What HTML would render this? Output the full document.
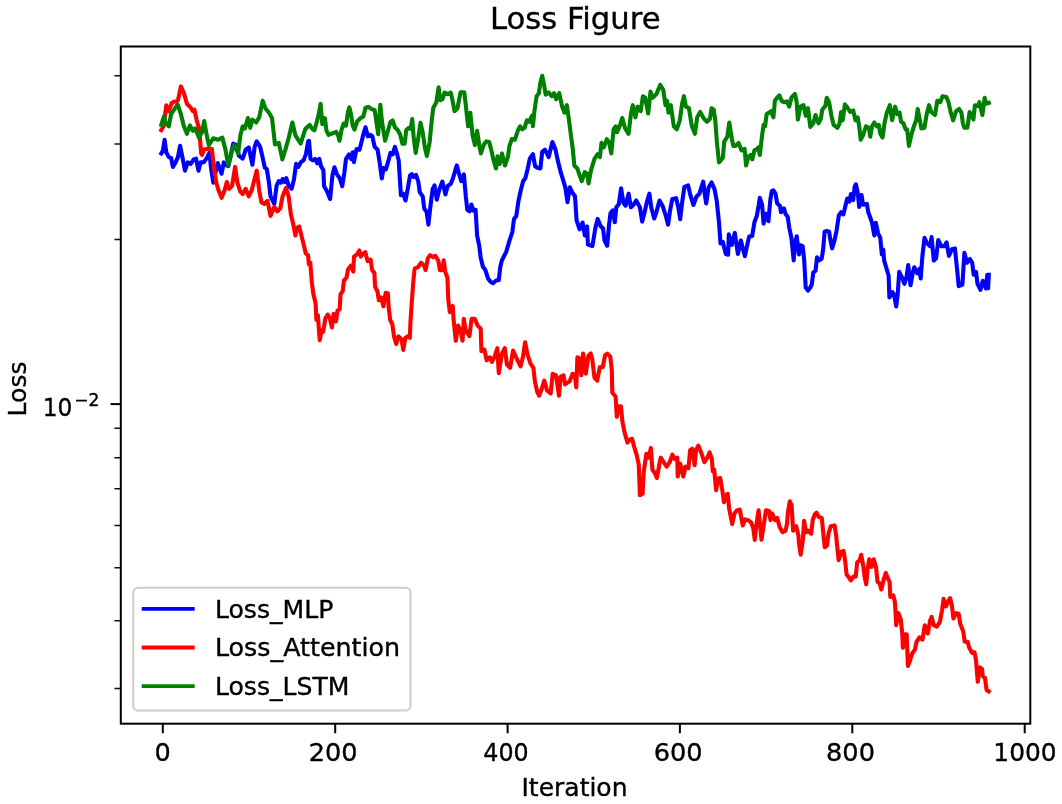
<!DOCTYPE html>
<html lang="en"><head><meta charset="utf-8"><title>Loss Figure</title>
<style>html,body{margin:0;padding:0;background:#fff;overflow:hidden}svg{display:block}text{font-family:'DejaVu Sans','Liberation Sans',sans-serif;fill:#000;stroke:#000;stroke-width:.35px}svg{filter:blur(.45px)}</style></head><body>
<svg width="1062" height="804" viewBox="0 0 1062 804">
<rect width="1062" height="804" fill="#fff"/>
<defs><clipPath id="c"><rect x="120.8" y="46.5" width="909.5" height="677.2"/></clipPath></defs>
<g clip-path="url(#c)" fill="none" stroke-width="4.1" stroke-linejoin="round" stroke-linecap="square">
<polyline stroke="#0000ff" points="161.3,153.4 162.8,151.1 164.6,139.8 166.3,152.6 168.8,157.1 171.1,157.9 172.9,166.9 175.6,162.4 177.9,157.1 180.1,145.8 182.1,155.6 185.0,170.7 187.7,162.4 190.7,163.9 193.7,159.4 196.0,158.6 198.5,170.7 200.5,162.4 203.5,162.4 206.5,158.6 209.5,152.6 211.0,167.7 213.3,182.7 215.5,172.2 217.8,163.1 221.6,173.7 223.8,162.4 225.3,164.7 228.3,166.2 230.6,155.6 233.2,143.6 236.6,145.1 238.9,155.6 242.7,158.6 245.7,149.6 248.7,147.3 252.4,164.7 254.7,146.6 256.7,141.3 260.0,146.6 262.2,155.6 264.8,167.7 266.8,169.2 269.0,182.7 270.5,196.3 274.3,203.8 276.6,185.7 278.8,181.2 281.1,182.7 282.6,179.0 284.8,182.0 286.3,178.2 288.6,185.7 291.6,188.8 293.9,179.7 296.1,163.9 298.4,166.9 300.7,162.4 303.7,160.1 305.9,154.1 308.2,141.3 309.0,140.8 310.5,158.9 312.8,160.4 315.1,158.9 317.3,163.4 319.3,158.9 321.1,166.4 323.4,170.2 324.1,186.2 327.1,191.4 330.1,199.0 332.4,175.6 334.4,167.3 336.9,174.1 339.9,178.6 342.2,186.2 344.4,172.6 346.0,159.0 349.0,154.5 351.2,159.0 352.7,152.3 353.9,162.1 356.5,149.1 359.5,149.8 361.8,140.8 364.0,131.8 365.5,127.3 367.8,136.3 370.1,134.8 372.3,136.3 374.6,146.8 377.6,149.8 379.8,163.4 381.8,178.5 383.6,167.9 385.9,169.4 388.1,161.9 390.4,152.9 392.7,154.4 394.9,146.8 397.2,154.4 398.7,160.4 400.2,184.7 400.9,195.2 403.2,193.7 405.5,200.5 407.7,189.2 410.0,175.6 411.8,174.1 413.7,177.1 416.0,174.9 418.3,181.6 419.8,192.2 422.8,196.7 424.3,208.8 426.6,211.8 428.4,224.6 430.3,207.3 432.6,189.2 434.5,185.4 436.8,199.7 439.4,189.2 442.4,181.6 445.4,194.4 447.6,186.2 450.7,183.9 453.0,178.2 456.8,165.4 459.0,173.7 461.3,181.2 463.9,174.4 465.8,196.3 467.3,209.8 469.6,211.4 471.4,204.6 473.4,210.6 475.6,209.8 477.1,235.5 479.2,245.6 480.7,257.7 482.9,266.7 485.2,269.7 488.2,278.8 490.5,281.8 493.0,283.3 496.5,280.3 498.8,280.3 500.3,266.7 501.8,260.7 506.3,251.6 509.3,241.1 512.3,232.1 514.0,218.9 516.3,215.9 518.5,200.8 520.8,190.3 523.1,181.2 525.3,178.2 527.6,169.2 529.8,158.6 532.9,154.1 535.1,166.2 537.4,167.7 540.4,168.4 542.2,151.8 544.9,149.6 548.7,157.1 552.4,142.1 555.5,149.6 557.7,160.1 560.7,172.2 563.0,179.7 565.3,187.3 567.5,202.3 569.8,187.3 572.8,193.3 575.0,196.3 576.6,220.4 579.6,229.4 582.6,222.7 584.8,235.5 587.1,226.4 587.9,244.5 592.4,246.0 595.4,227.9 597.6,218.9 600.7,226.4 603.0,228.3 604.5,240.4 607.2,245.7 609.0,225.3 610.5,213.3 612.8,210.3 614.8,222.3 616.3,207.3 618.8,204.2 621.1,188.4 623.4,202.7 625.6,205.7 628.6,193.7 630.9,207.3 633.9,204.2 636.2,200.5 639.9,207.3 642.2,221.6 644.4,213.3 646.7,202.7 649.4,193.7 651.2,207.3 654.2,218.5 656.5,211.8 659.5,200.5 662.5,205.7 665.5,214.8 668.1,224.6 670.1,210.3 672.3,199.0 676.1,198.2 678.3,207.3 680.2,219.3 682.1,202.7 684.4,186.9 688.1,185.4 690.4,195.2 693.4,205.0 696.4,196.7 699.4,193.7 703.2,181.6 704.7,193.7 706.2,203.5 708.5,187.7 711.5,182.4 714.5,189.2 716.8,201.2 719.0,222.3 720.5,243.4 722.8,241.9 725.8,254.0 728.1,254.7 728.8,234.4 731.8,244.9 734.8,232.9 737.9,254.0 740.9,240.4 743.1,249.4 744.9,256.2 747.6,243.4 749.2,236.6 752.2,235.9 754.4,222.3 756.7,216.3 758.3,207.7 759.8,197.9 762.1,204.7 763.6,223.5 765.8,213.7 768.4,221.2 770.3,200.1 771.8,191.1 773.4,190.3 775.6,194.1 777.1,203.1 780.1,206.2 780.9,212.2 783.9,208.4 785.4,213.7 787.7,216.7 789.2,227.3 791.4,237.8 793.7,260.4 794.9,243.8 796.7,236.3 799.0,254.4 800.5,245.3 802.7,246.1 804.2,260.4 805.7,287.5 808.0,290.5 810.3,287.5 811.8,284.5 813.3,272.4 815.5,270.9 817.0,257.4 819.3,260.4 821.6,258.9 823.1,249.8 824.6,231.8 826.8,231.0 829.1,231.8 830.6,240.8 832.1,248.3 834.4,240.8 836.6,230.3 838.9,215.2 841.1,212.2 843.4,214.4 845.7,204.7 847.2,198.6 849.4,201.6 850.9,194.1 853.2,200.1 854.7,186.6 855.9,184.3 857.7,192.6 859.2,206.9 861.5,194.9 863.0,204.7 866.8,203.9 868.3,212.2 870.5,218.2 872.0,222.7 874.3,235.5 875.8,222.7 878.1,233.3 880.3,237.8 881.8,254.4 883.3,249.8 884.1,260.4 886.3,267.9 888.6,275.5 889.4,297.4 892.4,292.1 893.9,294.4 896.2,306.4 897.7,294.4 899.2,271.8 902.2,277.8 904.4,283.8 906.7,276.3 908.2,265.0 910.5,285.3 912.7,273.3 914.2,267.3 917.3,273.3 919.5,268.8 920.7,278.5 922.5,255.2 924.5,237.9 927.0,243.1 930.1,246.2 931.6,237.1 933.8,260.5 936.1,258.2 938.3,240.1 941.4,246.2 944.4,246.2 946.6,242.4 948.9,256.0 951.9,249.2 954.9,248.4 957.2,270.3 958.7,286.1 962.4,284.6 964.4,252.9 967.0,262.7 970.0,259.0 972.2,262.7 973.7,274.8 976.0,271.8 977.5,283.8 980.5,289.8 982.8,280.8 985.8,288.3 987.3,274.8 988.1,288.3 988.8,274.8"/>
<polyline stroke="#ff0000" points="161.3,130.1 163.6,126.3 166.3,105.2 168.8,111.2 171.8,102.9 174.9,101.4 177.9,100.7 180.9,86.4 183.9,93.1 186.9,103.7 189.9,106.7 192.9,111.2 194.4,109.7 196.7,120.3 199.0,127.8 201.2,153.4 202.0,154.9 204.2,149.6 208.0,148.8 211.8,148.8 214.0,167.7 216.3,182.7 218.5,190.3 221.6,197.8 224.6,190.3 226.8,182.0 229.1,188.8 232.1,185.7 235.1,166.9 237.4,182.7 240.4,191.8 242.7,194.0 245.7,188.8 248.7,196.3 251.7,190.3 254.0,181.2 256.7,170.7 259.2,190.3 261.5,202.3 264.5,203.8 267.5,200.8 270.5,215.9 274.3,206.8 277.3,211.4 280.3,208.3 282.6,196.3 286.0,188.0 288.6,196.3 290.9,214.4 293.1,223.4 295.4,235.5 296.9,227.9 299.2,226.4 301.4,235.5 303.7,244.5 305.8,253.6 308.1,255.1 308.8,264.1 310.3,262.6 311.8,282.2 313.4,294.2 315.6,303.3 316.4,319.8 317.9,315.3 319.7,340.2 321.6,330.4 323.1,331.9 325.4,318.3 327.7,314.6 329.9,318.3 331.9,327.4 333.7,313.8 336.0,321.4 337.5,310.8 339.7,309.3 340.5,294.2 342.7,291.2 343.9,280.7 346.5,277.7 348.0,269.4 351.0,265.6 353.3,271.6 354.0,256.6 357.0,254.3 359.3,250.5 360.8,256.6 363.1,253.6 365.3,252.1 367.6,261.1 370.6,259.6 372.1,270.1 374.4,273.1 375.1,286.7 377.4,291.2 378.9,300.3 381.1,297.3 383.4,306.3 385.7,292.7 387.9,293.5 388.7,307.8 390.2,319.8 392.4,324.4 394.0,336.4 396.2,344.0 398.5,336.4 401.5,339.4 403.3,350.0 405.3,337.9 407.5,336.4 409.8,337.9 410.5,321.4 412.0,298.8 413.5,279.2 414.7,268.6 418.1,267.1 421.1,262.6 424.1,265.6 425.6,270.1 427.9,258.1 430.1,255.1 433.1,257.3 435.4,255.8 438.4,261.1 439.9,270.1 442.2,270.1 443.7,260.3 445.2,271.6 447.4,277.7 448.3,300.0 449.8,312.1 452.8,306.0 453.6,319.6 455.8,340.7 458.1,325.6 460.3,330.1 462.6,340.7 463.8,318.8 465.6,330.1 469.4,336.2 471.6,318.8 474.7,318.8 477.7,325.6 480.7,328.6 481.4,351.2 484.4,349.7 486.7,360.3 489.7,357.3 492.0,361.8 495.0,355.7 497.3,348.2 498.8,373.1 501.8,354.2 504.8,348.2 507.0,364.8 510.1,367.8 513.1,350.5 515.3,355.7 517.6,360.3 520.6,366.3 522.9,357.3 525.1,342.2 527.4,354.2 530.4,363.3 533.4,367.8 534.9,381.4 537.2,391.9 539.1,395.7 541.7,388.9 544.3,380.6 547.0,390.4 550.7,393.4 552.7,373.8 556.0,375.3 559.0,395.7 560.5,376.8 563.5,375.3 565.0,384.4 569.6,381.4 572.6,373.8 574.8,375.3 576.3,387.4 577.4,357.3 580.1,358.8 581.3,375.3 583.1,353.5 585.8,373.8 588.4,355.7 590.7,353.5 592.3,359.6 594.5,377.7 597.2,380.7 599.8,367.1 602.8,367.1 605.1,355.1 607.3,353.6 610.3,356.6 611.8,370.1 612.3,392.7 615.6,396.5 616.8,416.8 618.6,406.3 620.9,406.3 622.4,421.4 624.5,432.1 627.5,442.6 629.8,439.6 632.1,438.8 634.3,447.1 636.6,454.7 638.8,465.2 639.9,495.3 642.6,493.8 643.8,471.2 646.4,453.9 648.6,457.7 650.9,447.9 652.4,469.7 654.7,472.7 656.9,478.0 659.2,465.2 660.7,457.7 663.7,462.2 666.7,466.7 669.7,462.2 672.4,454.7 675.0,459.2 677.3,457.7 677.7,476.5 680.3,463.7 683.3,476.5 685.5,466.7 688.5,468.2 690.1,450.1 692.3,448.6 694.6,465.2 696.1,450.1 698.3,445.6 701.4,453.1 704.4,462.2 707.4,457.7 709.6,452.4 711.9,459.2 712.7,471.2 714.2,469.7 716.1,490.1 717.9,478.8 720.2,478.0 722.4,490.8 724.0,502.1 726.2,495.3 727.7,493.8 729.2,508.9 730.7,516.4 732.2,524.0 734.5,513.4 736.8,510.4 739.8,509.6 741.3,517.9 742.8,525.5 745.0,519.4 748.1,520.2 751.1,522.4 753.3,528.5 754.8,539.9 756.3,525.5 758.6,510.4 760.1,525.5 761.5,539.7 763.8,524.7 766.0,510.3 769.0,511.1 770.5,520.1 772.1,513.4 775.1,520.1 777.3,517.9 779.6,526.9 782.6,532.2 785.6,530.7 787.1,523.1 787.9,512.6 789.8,501.3 791.6,505.1 793.1,530.7 796.2,526.2 798.4,535.2 798.9,542.7 800.7,554.8 802.9,539.7 804.1,520.9 806.0,532.2 808.2,530.7 811.2,533.7 812.7,520.1 815.0,514.1 816.5,512.6 818.8,517.1 821.8,517.9 823.3,533.7 824.8,547.3 827.0,545.7 828.5,533.7 830.8,526.2 834.6,525.4 836.1,535.2 837.6,550.3 838.6,560.1 841.4,551.8 843.6,551.0 845.1,560.8 846.6,574.4 848.9,577.4 850.8,580.4 853.4,576.6 855.7,576.6 857.2,562.3 859.4,560.8 861.2,554.8 863.2,565.3 864.7,577.4 866.2,584.2 867.7,568.3 869.2,559.3 871.5,566.8 873.7,559.3 876.0,566.8 877.5,581.9 879.8,583.4 881.3,589.4 883.5,580.4 885.8,572.9 888.1,578.9 889.6,581.9 890.3,597.0 893.3,595.5 894.8,601.5 895.4,610.1 896.2,625.2 898.4,613.1 900.7,619.2 902.2,632.7 902.9,647.8 905.2,634.2 906.7,634.2 907.9,665.9 909.7,661.4 912.0,653.8 915.0,649.3 916.5,641.8 919.5,637.3 922.5,639.5 924.8,625.2 927.8,633.5 930.1,620.7 931.6,616.9 933.8,625.2 936.8,626.7 939.8,622.2 942.1,610.1 943.6,598.8 945.9,606.4 948.1,601.1 950.1,598.1 951.9,605.6 953.4,618.4 956.4,613.1 958.7,613.9 960.2,623.7 963.2,631.2 964.7,641.8 967.7,641.8 969.2,647.8 972.2,653.1 974.5,652.3 976.0,659.8 976.8,670.4 977.8,681.7 979.8,667.4 982.0,668.9 982.8,676.4 985.0,677.9 986.6,690.0 988.8,691.5"/>
<polyline stroke="#008000" points="161.3,124.8 163.9,116.5 165.8,123.3 168.8,126.3 171.1,114.2 174.1,109.7 177.6,104.4 180.9,114.2 183.9,126.3 186.9,133.8 189.9,125.5 192.9,130.8 195.2,128.5 199.0,137.6 202.0,132.3 204.2,121.0 206.5,133.8 208.8,145.1 213.3,138.3 217.8,139.8 222.3,137.6 225.3,148.9 228.3,165.5 232.1,150.4 234.4,145.1 238.1,153.4 240.4,135.3 242.7,126.3 244.9,128.5 247.9,118.0 250.2,127.8 252.4,119.5 256.2,122.5 259.2,117.3 262.7,100.7 265.3,108.2 269.0,112.7 272.0,118.0 275.0,144.4 278.8,142.9 282.3,159.4 285.6,148.9 288.6,138.3 292.4,122.5 295.4,135.3 300.7,143.6 305.2,129.3 308.9,125.5 309.8,125.0 312.1,128.8 314.3,130.3 316.6,122.7 318.8,113.7 320.6,103.9 322.3,124.2 324.9,118.2 326.4,130.3 328.6,134.8 332.4,133.3 336.2,131.8 338.4,136.3 339.5,140.8 341.4,130.3 343.7,123.5 346.0,125.7 347.9,112.2 349.4,107.4 351.2,115.2 352.7,125.7 354.5,129.5 357.3,121.2 360.3,118.2 363.3,116.7 365.5,107.7 368.5,106.9 371.6,109.2 374.6,109.9 376.1,119.7 378.2,134.3 380.3,104.7 382.1,122.7 385.1,140.8 388.1,130.3 390.4,122.0 392.7,120.5 394.9,127.3 397.9,130.3 400.2,134.8 402.4,143.8 404.7,143.8 406.2,130.3 408.5,128.0 410.7,128.8 412.2,119.0 413.7,137.8 415.7,152.9 418.3,137.8 420.5,122.7 422.8,133.3 425.0,148.3 426.9,155.9 429.6,142.3 431.8,119.7 433.3,107.7 436.3,102.4 438.6,87.3 440.4,100.1 442.4,99.4 444.6,92.6 447.6,94.1 450.7,92.6 452.3,99.2 454.5,111.2 457.5,108.2 460.5,92.4 464.3,92.4 465.8,105.2 468.1,126.3 470.3,112.7 472.6,135.3 474.9,145.1 477.1,130.8 479.4,145.9 480.9,153.4 483.9,144.4 486.2,141.4 489.2,142.1 491.4,150.4 493.7,160.9 496.0,168.5 497.5,156.4 499.7,164.0 502.0,153.4 505.0,165.5 508.0,156.4 509.5,145.9 511.8,139.1 514.8,139.8 517.8,130.8 520.1,126.3 522.3,129.3 524.6,127.8 526.8,120.3 529.1,121.8 532.1,115.7 532.9,126.3 534.4,111.2 536.6,96.2 538.9,93.1 540.4,82.6 542.2,75.8 544.2,85.6 545.7,94.7 548.7,92.4 551.7,96.2 554.0,93.1 556.2,99.2 559.2,93.1 562.2,106.7 564.5,112.7 566.8,105.2 569.0,120.3 571.3,138.3 572.8,148.9 574.3,165.5 577.3,168.5 579.6,175.2 581.8,181.2 584.8,172.2 587.1,173.7 588.6,183.5 590.9,170.7 594.6,158.6 597.6,154.1 599.9,157.1 601.5,142.9 603.8,147.4 606.8,139.1 609.0,142.1 611.3,153.4 613.6,129.3 615.8,126.3 616.9,132.3 619.6,126.3 622.3,118.0 624.9,127.8 628.6,133.8 630.9,114.2 632.8,105.2 635.4,117.3 637.7,106.7 640.7,111.2 642.9,96.2 645.2,97.7 648.2,113.5 650.5,91.6 652.7,97.7 656.5,93.9 660.3,84.9 663.3,90.1 665.5,105.2 667.0,100.7 668.5,112.7 670.8,105.2 673.8,126.3 676.8,129.3 679.8,120.3 682.1,103.7 683.9,96.2 685.9,106.7 688.9,108.2 691.9,126.3 694.9,133.8 697.2,117.3 700.2,112.0 704.0,118.8 707.0,121.8 710.0,118.8 711.5,108.2 713.7,109.7 715.3,120.3 716.8,141.4 719.0,162.4 722.8,157.9 724.3,141.4 727.3,136.8 729.3,122.5 731.8,138.3 733.3,145.9 735.6,145.9 738.6,142.9 741.6,150.4 744.6,148.9 746.1,165.5 748.4,156.4 750.7,154.9 752.2,159.4 754.4,150.4 757.4,148.9 758.3,147.4 759.8,154.9 762.1,135.3 763.6,124.8 765.1,126.3 766.6,114.2 768.8,112.7 771.1,111.2 773.4,117.3 774.9,100.7 777.1,97.7 779.4,95.4 781.6,100.7 783.9,102.2 786.9,101.4 789.2,106.7 791.4,97.7 794.9,93.9 796.7,102.2 797.9,119.5 800.5,106.7 803.5,105.2 805.7,115.7 808.0,108.2 810.3,127.0 813.3,123.3 815.5,115.0 818.5,123.3 820.8,118.8 822.3,109.7 825.3,106.0 826.8,97.7 829.1,102.2 831.4,115.7 833.6,124.8 837.4,127.8 839.6,123.3 841.1,112.0 842.7,120.3 844.9,104.4 847.9,108.2 850.2,112.0 853.2,110.5 855.5,120.3 857.7,117.3 859.2,126.3 860.7,139.8 863.0,135.3 866.0,126.3 869.0,127.8 870.2,136.8 872.0,126.3 874.3,122.5 876.6,126.3 878.8,124.8 880.3,133.8 882.6,137.6 884.5,123.3 886.8,112.7 889.8,105.2 892.1,120.3 895.1,106.7 897.3,114.2 899.6,112.7 901.1,121.8 903.4,123.3 905.6,129.3 907.1,129.3 908.9,145.9 911.6,133.8 913.9,126.3 916.2,120.3 917.7,109.0 919.9,120.3 921.4,128.5 924.4,127.8 926.7,114.2 929.0,105.2 931.2,112.0 935.0,115.0 937.3,100.7 940.3,102.2 942.5,96.2 946.3,96.9 948.5,102.2 950.8,112.7 953.1,120.3 956.1,111.2 959.1,109.0 961.4,112.7 962.9,123.3 964.4,127.8 967.4,127.8 969.6,112.0 971.9,115.7 973.4,119.5 974.9,105.2 977.9,106.0 979.4,102.2 982.4,115.0 984.7,97.7 986.2,103.7 988.8,102.9"/>
</g>
<path d="M162.8 723.7v9.6M335.2 723.7v9.6M507.6 723.7v9.6M679.9 723.7v9.6M852.3 723.7v9.6M1024.7 723.7v9.6" stroke="#000" stroke-width="2.0" fill="none"/>
<path d="M120.8 404.1h-10.2" stroke="#000" stroke-width="2.0" fill="none"/>
<path d="M120.8 75.8h-6.4M120.8 143.9h-6.4M120.8 239.6h-6.4M120.8 428.2h-6.4M120.8 457.8h-6.4M120.8 488.8h-6.4M120.8 525.5h-6.4M120.8 567.8h-6.4M120.8 620.7h-6.4M120.8 688.6h-6.4" stroke="#111" stroke-width="1.5" fill="none"/>
<rect x="120.8" y="46.5" width="909.5" height="677.2" fill="none" stroke="#000" stroke-width="2.0"/>
<text transform="translate(162.75 761.00) scale(1.0500 1)" font-size="24.4" text-anchor="middle">0</text>
<text transform="translate(333.10 761.00) scale(1.0500 1)" font-size="24.4" text-anchor="middle">200</text>
<text transform="translate(506.00 761.00) scale(0.9750 1)" font-size="24.4" text-anchor="middle">400</text>
<text transform="translate(678.10 761.00) scale(1.0500 1)" font-size="24.4" text-anchor="middle">600</text>
<text transform="translate(850.50 761.00) scale(1.0500 1)" font-size="24.4" text-anchor="middle">800</text>
<text transform="translate(1025.00 761.00) scale(1.0200 1)" font-size="24.4" text-anchor="middle">1000</text>
<text transform="translate(42.80 416.20) scale(0.9550 1)" font-size="24.4">10</text>
<text transform="translate(74.20 406.40) scale(1.0000 1)" font-size="17.1">−2</text>
<text transform="translate(521.50 795.80) scale(1.0250 1)" font-size="24.4">Iteration</text>
<text transform="translate(25.8 388.9) rotate(-90) scale(1.03 1)" font-size="24.4" text-anchor="middle">Loss</text>
<text transform="translate(489.90 28.90) scale(1.0400 1)" font-size="29.5">Loss Figure</text>
<rect x="133.3" y="587.8" width="277.2" height="122.6" rx="4.5" fill="#fff" fill-opacity="0.8" stroke="#ccc" stroke-width="2.0"/>
<path d="M141.7 608.8H194.7" stroke="#0000ff" stroke-width="3.8" fill="none"/>
<text transform="translate(214.90 617.60) scale(1.0300 1)" font-size="24.4">Loss_MLP</text>
<path d="M141.7 647.5H194.7" stroke="#ff0000" stroke-width="3.8" fill="none"/>
<text transform="translate(214.90 656.30) scale(1.0390 1)" font-size="24.4">Loss_Attention</text>
<path d="M141.7 686.2H194.7" stroke="#008000" stroke-width="3.8" fill="none"/>
<text transform="translate(214.90 695.00) scale(1.0300 1)" font-size="24.4">Loss_LSTM</text>
</svg></body></html>
